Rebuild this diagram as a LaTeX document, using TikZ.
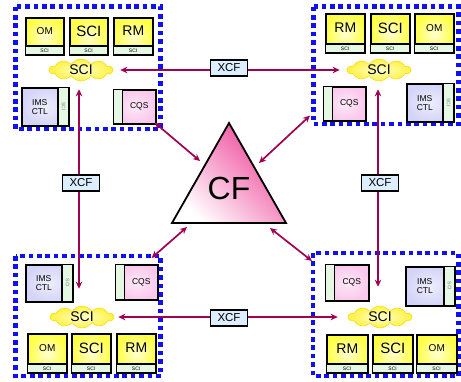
\documentclass[tikz,border=0pt]{standalone}
\usepackage{fontspec}
\setmainfont{Liberation Sans}
\usetikzlibrary{shapes.symbols,arrows.meta,calc}
\definecolor{xcfmaroon}{RGB}{160,0,80}
\definecolor{dotblue}{RGB}{16,16,240}
\definecolor{ybright}{RGB}{255,255,70}
\definecolor{ypale}{RGB}{255,255,210}
\definecolor{stripgreen}{RGB}{228,248,228}
\definecolor{imsblue}{RGB}{212,212,248}
\definecolor{cqspink}{RGB}{250,200,236}
\definecolor{xcfblue}{RGB}{220,238,255}
\definecolor{cfpink}{RGB}{238,64,150}
\tikzset{
  dotbox/.style={dotblue, line width=4.6pt, dash pattern=on 4.6pt off 3.8pt},
  ybx/.style={draw=black, line width=1.6pt, inner color=ypale, outer color=ybright, inner sep=0pt},
  stripbox/.style={draw=black, line width=1.2pt, fill=stripgreen, inner sep=0pt, font=\fontsize{5}{5}\selectfont},
  imsbox/.style={draw=black, line width=1.6pt, inner color=imsblue!40!white, outer color=imsblue, inner sep=0pt},
  cqsbox/.style={draw=black, line width=1.6pt, inner color=cqspink!40!white, outer color=cqspink, inner sep=0pt},
  smalltxt/.style={font=\fontsize{8.5}{9}\selectfont, align=center, inner sep=0pt},
  cloudy/.style={cloud, cloud puffs=10, cloud puff arc=115, aspect=3.2, inner sep=0pt,
    draw=yellow!75!orange, line width=0.5pt, inner color=ypale, outer color=ybright!90!orange,
    font=\fontsize{14}{14}\selectfont},
  xcf/.style={draw=black, line width=1.4pt, fill=xcfblue, minimum width=37pt, minimum height=16pt,
    inner sep=0pt, font=\fontsize{11.5}{12}\selectfont},
  xarr/.style={xcfmaroon, line width=1.7pt, {Stealth[length=7pt,width=6.5pt]}-{Stealth[length=7pt,width=6.5pt]}},
}
% name, x, y, w, h, label
\newcommand\ybox[6]{%
  \node[ybx, minimum width=#4pt, minimum height=#5pt, anchor=north west] (#1) at (#2,#3) {};
  \node[stripbox, minimum width=#4pt, minimum height=9pt, anchor=south west] (#1s) at (#1.south west) {SCI};
  \node[inner sep=0pt] (#1l) at ($(#1.north)+(0,{(#5-9)/2})$) {#6};
}
% name, x, y, w, h, strip on east (1) or west (0) -- IMS
\newcommand\imsbx[6]{%
  \node[imsbox, minimum width=#4pt, minimum height=#5pt, anchor=north west] (#1) at (#2,#3) {};
  \ifnum#6=1
    \node[stripbox, minimum width=11pt, minimum height=#5pt, anchor=north east] (#1s) at (#1.north east) {\rotatebox{-90}{\textcolor{gray}{SCI}}};
    \node[smalltxt] (#1l) at ($(#1.center)+(-5.5,0)$) {IMS\\CTL};
  \else
    \node[stripbox, minimum width=11pt, minimum height=#5pt, anchor=north west] (#1s) at (#1.north west) {\rotatebox{-90}{\textcolor{gray}{SCI}}};
    \node[smalltxt] (#1l) at ($(#1.center)+(5.5,0)$) {IMS\\CTL};
  \fi
}
\newcommand\cqsbx[5]{%
  \node[cqsbox, minimum width=#4pt, minimum height=#5pt, anchor=north west] (#1) at (#2,#3) {};
  \node[stripbox, minimum width=9pt, minimum height=#5pt, anchor=north west] (#1s) at (#1.north west) {};
  \node[smalltxt] (#1l) at ($(#1.center)+(4.5,0)$) {CQS};
}
\begin{document}
\begin{tikzpicture}[x=1pt,y=-1pt]
\useasboundingbox (0,0) rectangle (461,381);
% borders
\draw[dotbox] (15.5,6.5) rectangle (160.5,129);
\draw[dotbox] (313.5,6.5) rectangle (458.5,124);
\draw[dotbox] (15.5,256) rectangle (160.5,376);
\draw[dotbox] (313,253) rectangle (458.5,376);
% top-left
\ybox{tlom}{25}{17}{38}{37}{\fontsize{10}{10}\selectfont OM}
\ybox{tlsci}{69}{17}{38}{37}{\fontsize{15}{15}\selectfont SCI}
\ybox{tlrm}{113}{17}{39}{37}{\fontsize{14}{14}\selectfont RM}
\node[cloudy, minimum width=63pt, minimum height=22pt] (tlcloud) at (81,70) {SCI};
\imsbx{tlims}{21}{87}{47}{38}{1}
\cqsbx{tlcqs}{113}{89}{42}{34}
% top-right
\ybox{trrm}{325}{13}{39}{39}{\fontsize{14}{14}\selectfont RM}
\ybox{trsci}{370}{13}{39}{39}{\fontsize{15}{15}\selectfont SCI}
\ybox{trom}{414}{13}{39}{39}{\fontsize{10}{10}\selectfont OM}
\node[cloudy, minimum width=63pt, minimum height=22pt] (trcloud) at (379,70) {SCI};
\cqsbx{trcqs}{323}{86}{42}{34}
\imsbx{trims}{406}{83}{47}{38}{1}
% bottom-left
\imsbx{blims}{25}{264}{47}{37}{1}
\cqsbx{blcqs}{115}{264}{42}{35}
\node[cloudy, minimum width=63pt, minimum height=22pt] (blcloud) at (82,317) {SCI};
\ybox{blom}{27}{333}{39}{39}{\fontsize{10}{10}\selectfont OM}
\ybox{blsci}{71}{333}{39}{39}{\fontsize{15}{15}\selectfont SCI}
\ybox{blrm}{116}{333}{39}{39}{\fontsize{14}{14}\selectfont RM}
% bottom-right
\cqsbx{brcqs}{325}{264}{43}{36}
\imsbx{brims}{405}{266}{49}{39}{1}
\node[cloudy, minimum width=63pt, minimum height=22pt] (brcloud) at (380,317) {SCI};
\ybox{brrm}{326}{334}{41}{38}{\fontsize{14}{14}\selectfont RM}
\ybox{brsci}{372}{334}{40}{38}{\fontsize{15}{15}\selectfont SCI}
\ybox{brom}{416}{334}{40}{38}{\fontsize{10}{10}\selectfont OM}
% CF triangle
\shade[shading=axis, bottom color=white, middle color=cfpink, top color=cfpink, shading angle=-45]
  (229,123) -- (286,223) -- (172,223) -- cycle;
\draw[line width=1.8pt, line join=miter] (229,123) -- (286,223) -- (172,223) -- cycle;
\node[font=\fontsize{32}{32}\selectfont, inner sep=0pt] (cf) at (229,188) {CF};
\coordinate (cfa) at (200,161);
\coordinate (cfb) at (259,163);
\coordinate (cfc) at (187,227);
\coordinate (cfd) at (270,228);
% connectors
\draw[xarr, shorten <=7pt, shorten >=7pt] (tlcloud.east) -- (trcloud.west);
\draw[xarr, shorten <=4pt, shorten >=10pt] (blcloud.east) -- (brcloud.west);
\draw[xarr] ($(tlcloud.south)+(-2,8)$) -- ($(blcloud.north)+(-3,-17)$);
\draw[xarr] ($(trcloud.south)+(-1,8)$) -- ($(brcloud.north)+(-2,-19)$);
\draw[xarr] ($(tlcqs.south east)+(-2,-2)$) -- (cfa);
\draw[xarr] ($(trcqs.south west)+(-13,-6)$) -- (cfb);
\draw[xarr] ($(blcqs.north east)+(-7,-6)$) -- (cfc);
\draw[xarr] ($(brcqs.north west)+(-13,-3)$) -- (cfd);
% XCF labels
\node[xcf] (xcftop) at (229,68) {XCF};
\node[xcf] (xcfbot) at (229,318) {XCF};
\node[xcf] (xcfleft) at (81,183) {XCF};
\node[xcf] (xcfright) at (380,183) {XCF};
\end{tikzpicture}
\end{document}
